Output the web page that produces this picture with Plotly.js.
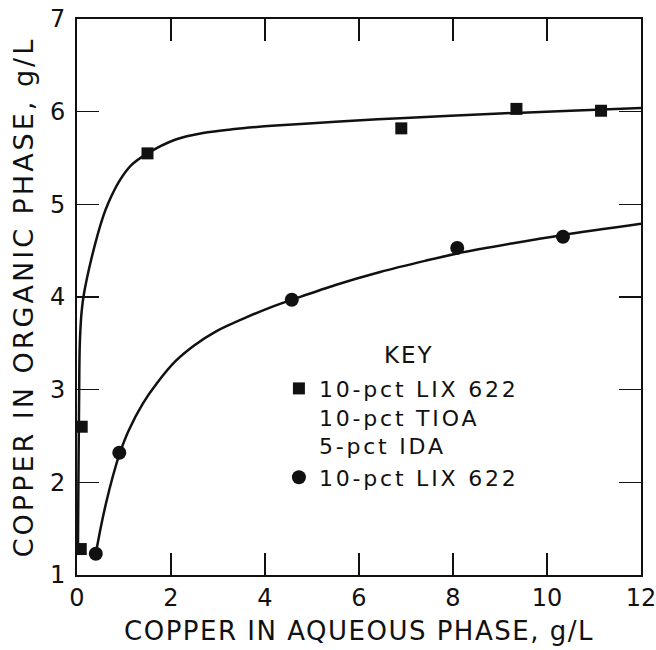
<!DOCTYPE html>
<html>
<head>
<meta charset="utf-8">
<script src="https://cdn.plot.ly/plotly-3.0.1.min.js"></script>
<style>
html,body{margin:0;padding:0;background:#fff;}
#chart .legendtext{letter-spacing:2.8px;}
#chart .legend .scrollbox{clip-path:none !important;}
#chart .xtitle{letter-spacing:1.5px;}
#chart .ytitle{letter-spacing:3px;}
#chart .annotation-text{letter-spacing:2px;}
</style>
</head>
<body>
<div id="chart" style="width:656px;height:650px;"></div>
<script>
// Measured points: LIX 622 + TIOA + IDA (squares)
const sqX = [0.08, 0.1, 1.5, 6.9, 9.35, 11.15];
const sqY = [1.28, 2.6, 5.55, 5.82, 6.03, 6.01];
// Measured points: LIX 622 alone (circles)
const ciX = [0.4, 0.9, 4.57, 8.09, 10.34];
const ciY = [1.23, 2.32, 3.97, 4.53, 4.65];
// Fitted curves
const upCurveX = [0.02, 0.03, 0.045, 0.06, 0.1, 0.15, 0.3, 0.55, 0.68, 0.9, 1.15, 1.5, 2.1, 2.68, 3.3, 4.23, 5.5, 6.87, 9.0, 10.5, 12.0];
const upCurveY = [1.25, 2.0, 2.9, 3.5, 3.85, 4.04, 4.4, 4.86, 5.03, 5.25, 5.42, 5.55, 5.70, 5.77, 5.81, 5.85, 5.89, 5.93, 5.98, 6.01, 6.04];
const loCurveX = [0.4, 0.5, 0.62, 0.76, 0.9, 1.1, 1.4, 1.7, 2.1, 2.5, 2.96, 3.6, 4.23, 4.57, 5.5, 6.45, 7.4, 8.09, 9.28, 10.34, 12.0];
const loCurveY = [1.23, 1.5, 1.78, 2.06, 2.3, 2.56, 2.85, 3.07, 3.31, 3.48, 3.63, 3.78, 3.91, 3.97, 4.13, 4.27, 4.39, 4.47, 4.58, 4.67, 4.79];
const xTicks = [0, 2, 4, 6, 8, 10, 12];
const yTicks = [1, 2, 3, 4, 5, 6, 7];
const legendTitle = "KEY";
const legendSq = "10-pct LIX 622<br>10-pct TIOA<br>5-pct IDA";
const legendCi = "10-pct LIX 622";
const xTitle = "COPPER IN AQUEOUS PHASE, g/L";
const yTitle = "COPPER IN ORGANIC PHASE, g/L";

const FONT = "DejaVu Sans, Liberation Sans, sans-serif";
const traces = [
  {x: upCurveX, y: upCurveY, mode: "lines", line: {color: "#111", width: 2.5, shape: "spline", smoothing: 0.9}, showlegend: false, hoverinfo: "skip"},
  {x: loCurveX, y: loCurveY, mode: "lines", line: {color: "#111", width: 2.5, shape: "spline", smoothing: 0.9}, showlegend: false, hoverinfo: "skip"},
  {x: sqX, y: sqY, mode: "markers", name: legendSq, marker: {symbol: "square", size: 12, color: "#111"}},
  {x: ciX, y: ciY, mode: "markers", name: legendCi, marker: {symbol: "circle", size: 14, color: "#111"}}
];
const axisCommon = {
  showgrid: false, zeroline: false, showline: true, linecolor: "#111", linewidth: 2,
  ticks: "inside", ticklen: 22, tickwidth: 1.5, tickcolor: "#111", mirror: "ticks",
  ticklabeloverflow: "allow",
  tickfont: {family: FONT, size: 24, color: "#111"}
};
const layout = {
  width: 656, height: 650,
  margin: {l: 77, r: 15, t: 19, b: 75},
  paper_bgcolor: "#fff", plot_bgcolor: "#fff",
  font: {family: FONT, color: "#111"},
  xaxis: Object.assign({}, axisCommon, {
    range: [0, 12], tickvals: xTicks, ticktext: xTicks.map(String),
    title: {text: xTitle, font: {family: FONT, size: 26, color: "#111"}, standoff: 11}
  }),
  yaxis: Object.assign({}, axisCommon, {
    range: [1, 7], tickvals: yTicks, ticktext: yTicks.map(String),
    ticklabelstandoff: 5,
    title: {text: yTitle, font: {family: FONT, size: 27, color: "#111"}, standoff: 8}
  }),
  annotations: [{
    text: legendTitle, xref: "paper", yref: "paper", x: 0.59, y: 0.396,
    xanchor: "center", yanchor: "middle", showarrow: false,
    font: {family: FONT, size: 23, color: "#111"}
  }],
  legend: {
    x: 0.358, y: 0.373, xanchor: "left", yanchor: "top",
    bgcolor: "rgba(0,0,0,0)", borderwidth: 0,
    font: {family: FONT, size: 22, color: "#111"},
    valign: "top", itemwidth: 30, tracegroupgap: 4,
    itemclick: false, itemdoubleclick: false
  },
  showlegend: true
};
Plotly.newPlot("chart", traces, layout, {displayModeBar: false, staticPlot: true});
</script>
</body>
</html>
